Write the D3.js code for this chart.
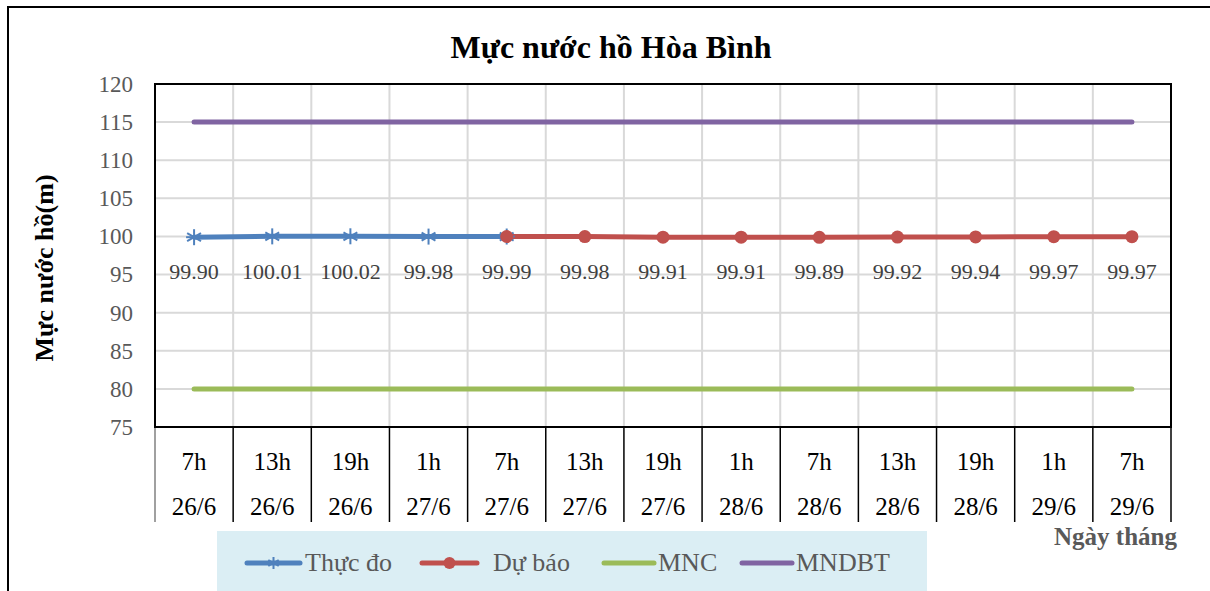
<!DOCTYPE html>
<html>
<head>
<meta charset="UTF-8">
<script src="https://cdn.jsdelivr.net/npm/d3@7/dist/d3.min.js"></script>
<style>
  body { margin: 0; background: #fff; }
  text { font-family: "Liberation Serif", "Times New Roman", serif; }
</style>
</head>
<body>
<svg id="chart" width="1210" height="591"></svg>
<script>
// data
var hours = ["7h","13h","19h","1h","7h","13h","19h","1h","7h","13h","19h","1h","7h"];
var days = ["26/6","26/6","26/6","27/6","27/6","27/6","27/6","28/6","28/6","28/6","28/6","29/6","29/6"];
var thucDo = [99.90, 100.01, 100.02, 99.98, 99.99, null, null, null, null, null, null, null, null];
var duBao = [null, null, null, null, 99.99, 99.98, 99.91, 99.91, 99.89, 99.92, 99.94, 99.97, 99.97];
var labels = ["99.90","100.01","100.02","99.98","99.99","99.98","99.91","99.91","99.89","99.92","99.94","99.97","99.97"];
var mnc = [80,80,80,80,80,80,80,80,80,80,80,80,80];
var mndbt = [115,115,115,115,115,115,115,115,115,115,115,115,115];
var yTicks = [75,80,85,90,95,100,105,110,115,120];

var svg = d3.select("#chart");
var L = 155, R = 1171, T = 84, B = 427;
var idx = d3.range(hours.length);

var x = d3.scaleBand().domain(idx).range([L, R]);
var y = d3.scaleLinear().domain([75, 120]).range([B, T]);
var cx = function(i){ return x(i) + x.bandwidth()/2; };

// outer frame
svg.append("rect").attr("x", 8).attr("y", 7).attr("width", 1220).attr("height", 600)
  .attr("fill", "none").attr("stroke", "#000").attr("stroke-width", 2);

// title
svg.append("text").attr("x", 611).attr("y", 58).attr("text-anchor", "middle")
  .attr("font-size", 32).attr("font-weight", "bold").text("Mực nước hồ Hòa Bình");

// grid
svg.append("g").selectAll("line").data(yTicks).enter().append("line")
  .attr("x1", L).attr("x2", R).attr("y1", function(d){ return y(d); }).attr("y2", function(d){ return y(d); })
  .attr("stroke", "#d9d9d9").attr("stroke-width", 2);
svg.append("g").selectAll("line").data(idx.slice(1)).enter().append("line")
  .attr("x1", function(i){ return x(i); }).attr("x2", function(i){ return x(i); })
  .attr("y1", T).attr("y2", B).attr("stroke", "#d9d9d9").attr("stroke-width", 2);

// y axis labels
var yAxis = d3.axisLeft(y).tickValues(yTicks).tickSize(0).tickPadding(22);
var ga = svg.append("g").attr("transform", "translate(" + L + ",0)").call(yAxis);
ga.select(".domain").remove();
ga.selectAll("text").attr("font-size", 23).attr("fill", "#595959");

svg.append("text").attr("transform", "translate(53,268) rotate(-90)").attr("text-anchor", "middle")
  .attr("font-size", 26).attr("font-weight", "bold").text("Mực nước hồ(m)");

// x axis table
var gx = svg.append("g");
gx.selectAll("line.sep").data(idx.concat([hours.length])).enter().append("line")
  .attr("x1", function(i){ return i < hours.length ? x(i) : R; })
  .attr("x2", function(i){ return i < hours.length ? x(i) : R; })
  .attr("y1", B).attr("y2", 522)
  .attr("stroke", function(i){ return i === 0 ? "#808080" : "#000"; }).attr("stroke-width", 1.5);
gx.selectAll("text.h").data(idx).enter().append("text")
  .attr("x", cx).attr("y", 470).attr("text-anchor", "middle").attr("font-size", 25).text(function(i){ return hours[i]; });
gx.selectAll("text.d").data(idx).enter().append("text")
  .attr("x", cx).attr("y", 515).attr("text-anchor", "middle").attr("font-size", 25).text(function(i){ return days[i]; });

svg.append("text").attr("x", 1177).attr("y", 545).attr("text-anchor", "end")
  .attr("font-size", 25).attr("font-weight", "bold").attr("fill", "#595959").text("Ngày tháng");

// plot border
svg.append("rect").attr("x", L).attr("y", T).attr("width", R - L).attr("height", B - T)
  .attr("fill", "none").attr("stroke", "#000").attr("stroke-width", 2);

// series
var line = d3.line().defined(function(d){ return d != null; })
  .x(function(d, i){ return cx(i); }).y(function(d){ return y(d); });

function drawLine(vals, color) {
  svg.append("path").datum(vals).attr("d", line).attr("fill", "none")
    .attr("stroke", color).attr("stroke-width", 5).attr("stroke-linecap", "round");
}
drawLine(mndbt, "#8064a2");
drawLine(mnc, "#9bbb59");
drawLine(thucDo, "#4f81bd");
drawLine(duBao, "#c0504d");

function star(g, px, py, s, color) {
  [0, 60, 120].forEach(function(a){
    var r = a * Math.PI / 180;
    g.append("line").attr("x1", px - s*Math.sin(r)).attr("y1", py - s*Math.cos(r))
      .attr("x2", px + s*Math.sin(r)).attr("y2", py + s*Math.cos(r))
      .attr("stroke", color).attr("stroke-width", 2);
  });
  g.append("line").attr("x1", px - s).attr("x2", px + s).attr("y1", py).attr("y2", py)
    .attr("stroke", color).attr("stroke-width", 2);
}
var gm = svg.append("g");
thucDo.forEach(function(d, i){ if (d != null) star(gm, cx(i), y(d), 8, "#4f81bd"); });
gm.selectAll("circle").data(duBao.map(function(d, i){ return {v: d, i: i}; }).filter(function(d){ return d.v != null; }))
  .enter().append("circle").attr("cx", function(d){ return cx(d.i); }).attr("cy", function(d){ return y(d.v); })
  .attr("r", 6.5).attr("fill", "#c0504d");

// data labels
svg.append("g").selectAll("text").data(idx).enter().append("text")
  .attr("x", cx).attr("y", 279).attr("text-anchor", "middle").attr("font-size", 22).attr("fill", "#404040")
  .text(function(i){ return labels[i]; });

// legend
var lg = svg.append("g");
lg.append("rect").attr("x", 217).attr("y", 531).attr("width", 710).attr("height", 62).attr("fill", "#dbeef4");
var items = [
  {name: "Thực đo", color: "#4f81bd", x1: 247, x2: 300, tx: 305, mark: "star"},
  {name: "Dự báo", color: "#c0504d", x1: 422, x2: 477, tx: 493, mark: "circle"},
  {name: "MNC", color: "#9bbb59", x1: 604, x2: 654, tx: 658, mark: null},
  {name: "MNDBT", color: "#8064a2", x1: 742, x2: 792, tx: 796, mark: null}
];
items.forEach(function(it){
  lg.append("line").attr("x1", it.x1).attr("x2", it.x2).attr("y1", 563).attr("y2", 563)
    .attr("stroke", it.color).attr("stroke-width", 5).attr("stroke-linecap", "round");
  var mx = (it.x1 + it.x2) / 2;
  if (it.mark === "star") star(lg, mx, 563, 6, it.color);
  if (it.mark === "circle") lg.append("circle").attr("cx", mx).attr("cy", 563).attr("r", 6).attr("fill", it.color);
  lg.append("text").attr("x", it.tx).attr("y", 571).attr("font-size", 26).attr("fill", "#595959").text(it.name);
});
</script>
</body>
</html>
